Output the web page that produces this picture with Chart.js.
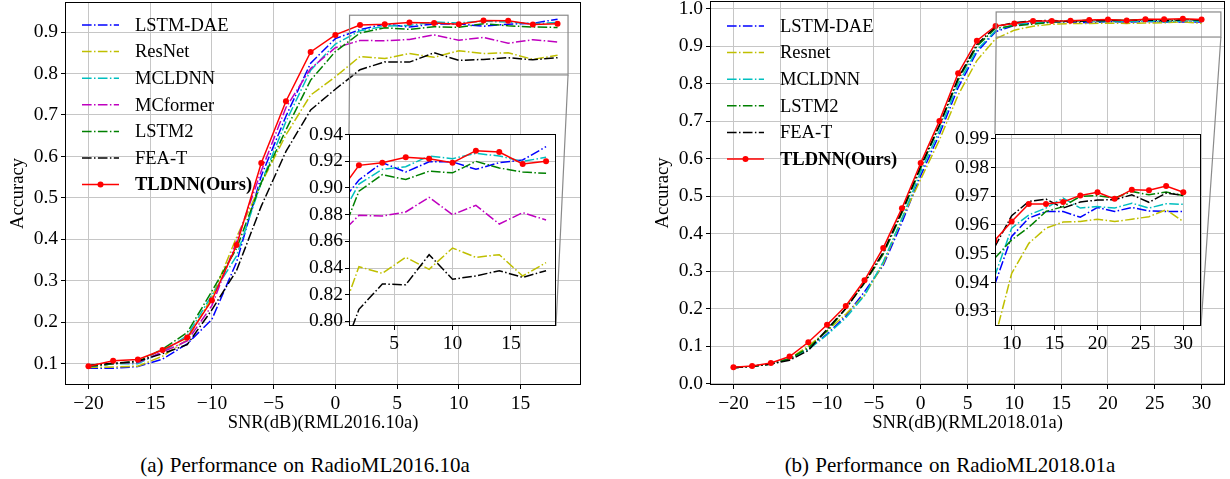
<!DOCTYPE html>
<html>
<head>
<meta charset="utf-8">
<script src="https://cdn.jsdelivr.net/npm/chart.js@4.4.0/dist/chart.umd.min.js"></script>
<style>
  body { margin: 0; background: #fff; width: 1230px; height: 479px; overflow: hidden; position: relative;
         font-family: 'Liberation Serif', 'Times New Roman', serif; }
  canvas { position: absolute; }
  .cap { position: absolute; font-size: 21px; line-height: 21px; white-space: nowrap;
         transform: translateX(-50%); word-spacing: 1px; color: #000; }
</style>
</head>
<body>
<canvas id="mainA" width="610" height="440" style="left:0px;top:0px"></canvas>
<canvas id="mainB" width="585" height="440" style="left:645px;top:0px"></canvas>
<canvas id="insetA" width="290" height="250" style="left:290px;top:110px"></canvas>
<canvas id="insetB" width="280" height="250" style="left:935px;top:110px"></canvas>
<div class="cap" style="left:305px;top:455px">(a) Performance on RadioML2016.10a</div>
<div class="cap" style="left:950px;top:455px">(b) Performance on RadioML2018.01a</div>
<script>
// ---- data: RadioML2016.10a ----
const snrA = [-20, -18, -16, -14, -12, -10, -8, -6, -4, -2, 0, 2, 4, 6, 8, 10, 12, 14, 16, 18];
const lstmDaeA = [0.089, 0.089, 0.093, 0.111, 0.148, 0.207, 0.345, 0.553, 0.697, 0.825, 0.884, 0.906, 0.919, 0.912, 0.9196, 0.9196, 0.914, 0.919, 0.921, 0.931];
const resnetA  = [0.091, 0.092, 0.094, 0.118, 0.158, 0.260, 0.405, 0.535, 0.652, 0.748, 0.792, 0.841, 0.836, 0.848, 0.839, 0.855, 0.848, 0.850, 0.834, 0.844];
const mcldnnA  = [0.092, 0.100, 0.100, 0.128, 0.168, 0.265, 0.360, 0.537, 0.684, 0.808, 0.871, 0.903, 0.914, 0.916, 0.924, 0.922, 0.926, 0.924, 0.920, 0.923];
const mcformerA = [0.093, 0.100, 0.103, 0.128, 0.155, 0.240, 0.395, 0.565, 0.718, 0.812, 0.862, 0.8795, 0.879, 0.882, 0.893, 0.880, 0.887, 0.873, 0.8815, 0.876];
const lstm2A   = [0.093, 0.100, 0.105, 0.135, 0.175, 0.275, 0.378, 0.537, 0.664, 0.784, 0.853, 0.8976, 0.910, 0.9064, 0.9126, 0.9114, 0.920, 0.915, 0.912, 0.911];
const feaTA    = [0.096, 0.101, 0.106, 0.124, 0.146, 0.230, 0.325, 0.480, 0.612, 0.712, 0.762, 0.809, 0.828, 0.8274, 0.850, 0.8316, 0.834, 0.838, 0.833, 0.838];
const tldnnA   = [0.094, 0.107, 0.110, 0.133, 0.163, 0.253, 0.386, 0.584, 0.733, 0.852, 0.893, 0.917, 0.919, 0.923, 0.922, 0.919, 0.928, 0.927, 0.918, 0.920];

// ---- data: RadioML2018.01a ----
const snrB = [-20, -18, -16, -14, -12, -10, -8, -6, -4, -2, 0, 2, 4, 6, 8, 10, 12, 14, 16, 18, 20, 22, 24, 26, 28, 30];
const lstmDaeB = [0.042, 0.046, 0.052, 0.066, 0.092, 0.132, 0.180, 0.245, 0.315, 0.430, 0.555, 0.665, 0.790, 0.885, 0.939, 0.956, 0.9624, 0.9647, 0.9647, 0.9627, 0.9661, 0.9647, 0.9661, 0.9649, 0.9647, 0.9647];
const resnetB  = [0.042, 0.046, 0.052, 0.066, 0.100, 0.140, 0.185, 0.235, 0.320, 0.440, 0.545, 0.650, 0.770, 0.862, 0.920, 0.9431, 0.9536, 0.9589, 0.961, 0.9612, 0.962, 0.9612, 0.962, 0.9629, 0.9653, 0.9612];
const mcldnnB  = [0.042, 0.046, 0.052, 0.066, 0.090, 0.130, 0.175, 0.235, 0.325, 0.440, 0.565, 0.675, 0.800, 0.890, 0.9419, 0.9589, 0.9635, 0.9659, 0.9694, 0.9659, 0.9664, 0.9659, 0.9676, 0.9659, 0.9674, 0.9672];
const lstm2B   = [0.042, 0.046, 0.052, 0.066, 0.095, 0.140, 0.200, 0.268, 0.345, 0.455, 0.575, 0.688, 0.810, 0.900, 0.9483, 0.9548, 0.9592, 0.9647, 0.9664, 0.970, 0.9702, 0.9694, 0.9717, 0.9705, 0.9715, 0.9702];
const feaTB    = [0.042, 0.046, 0.052, 0.062, 0.088, 0.145, 0.200, 0.270, 0.350, 0.460, 0.580, 0.690, 0.815, 0.905, 0.9522, 0.9632, 0.9682, 0.969, 0.9659, 0.968, 0.9687, 0.9688, 0.9705, 0.9679, 0.9711, 0.9703];
const tldnnB   = [0.0435, 0.047, 0.055, 0.072, 0.110, 0.157, 0.207, 0.2755, 0.362, 0.468, 0.5885, 0.701, 0.828, 0.915, 0.9545, 0.9612, 0.9673, 0.9673, 0.968, 0.9703, 0.9714, 0.9691, 0.9723, 0.9721, 0.9736, 0.9714];

// ---- tick labels ----
const xTicksA = [-20, -15, -10, -5, 0, 5, 10, 15];
const yTicksA = [0.1, 0.2, 0.3, 0.4, 0.5, 0.6, 0.7, 0.8, 0.9];
const insetXTicksA = [5, 10, 15];
const insetYTicksA = [0.80, 0.82, 0.84, 0.86, 0.88, 0.90, 0.92, 0.94];
const xTicksB = [-20, -15, -10, -5, 0, 5, 10, 15, 20, 25, 30];
const yTicksB = [0.0, 0.1, 0.2, 0.3, 0.4, 0.5, 0.6, 0.7, 0.8, 0.9, 1.0];
const insetXTicksB = [10, 15, 20, 25, 30];
const insetYTicksB = [0.93, 0.94, 0.95, 0.96, 0.97, 0.98, 0.99];

const FONT = "'Liberation Serif', 'Times New Roman', serif";
const GRID = '#c6c6c6';
const DASHDOT = [9.6, 2.4, 1.5, 2.4];

Chart.defaults.font.family = FONT;
Chart.defaults.font.size = 19.5;
Chart.defaults.color = '#000';

const seriesA = [
  {label: 'LSTM-DAE', color: '#0000ff', values: lstmDaeA},
  {label: 'ResNet', color: '#bfbf00', values: resnetA},
  {label: 'MCLDNN', color: '#00bfbf', values: mcldnnA},
  {label: 'MCformer', color: '#bf00bf', values: mcformerA},
  {label: 'LSTM2', color: '#008000', values: lstm2A},
  {label: 'FEA-T', color: '#000000', values: feaTA},
  {label: 'TLDNN(Ours)', color: '#ff0000', values: tldnnA, ours: true}
];
const seriesB = [
  {label: 'LSTM-DAE', color: '#0000ff', values: lstmDaeB},
  {label: 'Resnet', color: '#bfbf00', values: resnetB},
  {label: 'MCLDNN', color: '#00bfbf', values: mcldnnB},
  {label: 'LSTM2', color: '#008000', values: lstm2B},
  {label: 'FEA-T', color: '#000000', values: feaTB},
  {label: 'TLDNN(Ours)', color: '#ff0000', values: tldnnB, ours: true}
];

function makeDatasets(x, series) {
  return series.map((s, i) => ({
    label: s.label,
    ours: !!s.ours,
    data: x.map((v, j) => ({x: v, y: s.values[j]})),
    borderColor: s.color,
    backgroundColor: s.color,
    borderWidth: 1.5,
    borderDash: s.ours ? [] : DASHDOT,
    pointRadius: s.ours ? 3 : 0,
    pointBorderWidth: 0,
    pointHoverRadius: 0,
    tension: 0,
    order: series.length - i
  }));
}

const fmtX = v => (v < 0 ? '\u2212' + (-v) : String(v));
const fmt = d => v => v.toFixed(d);

function axis(min, max, ticks, cb, size, isY, title, pad) {
  const o = {
    type: 'linear', min: min, max: max,
    afterBuildTicks: a => { a.ticks = ticks.map(v => ({value: v})); },
    afterFit: a => {
      if (isY) a.width = size; else a.height = size;
      // ticks never sit on the plot edges, so no label overflow padding
      a.paddingTop = 0; a.paddingBottom = 0; a.paddingLeft = 0; a.paddingRight = 0;
    },
    grid: {color: GRID, lineWidth: 1, tickColor: '#000', tickLength: 4, drawTicks: true},
    border: {display: false},
    ticks: {callback: cb, padding: pad, autoSkip: false, maxRotation: 0, minRotation: 0, color: '#000'}
  };
  if (title) {
    o.title = {display: true, text: title, color: '#000', font: {size: 18.5},
               padding: isY ? {top: 7, bottom: 0} : {top: 0, bottom: 6}};
  }
  return o;
}

// frame (all four spines) + optional white plot background
const framePlugin = {
  id: 'frame',
  beforeDraw(chart, args, opts) {
    if (!opts.fill) return;
    const a = chart.chartArea, ctx = chart.ctx;
    ctx.save();
    ctx.fillStyle = '#fff';
    ctx.fillRect(a.left, a.top, a.right - a.left, a.bottom - a.top);
    ctx.restore();
  },
  afterDraw(chart) {
    const a = chart.chartArea, ctx = chart.ctx;
    ctx.save();
    ctx.strokeStyle = '#000';
    ctx.lineWidth = 1;
    ctx.strokeRect(Math.round(a.left) + 0.5, Math.round(a.top) + 0.5,
                   Math.round(a.right - a.left) - 1, Math.round(a.bottom - a.top) - 1);
    ctx.restore();
  }
};

// legend drawn inside the plot, from the datasets
const legendPlugin = {
  id: 'inLegend',
  afterDraw(chart, args, opts) {
    const a = chart.chartArea, ctx = chart.ctx;
    ctx.save();
    chart.data.datasets.forEach((ds, i) => {
      const y = a.top + opts.top + i * 26.6;
      const x0 = a.left + 17, x1 = a.left + 54;
      ctx.strokeStyle = ds.borderColor;
      ctx.lineWidth = 1.5;
      ctx.setLineDash(ds.borderDash);
      ctx.beginPath();
      ctx.moveTo(x0, y);
      ctx.lineTo(x1, y);
      ctx.stroke();
      ctx.setLineDash([]);
      if (ds.ours) {
        ctx.fillStyle = ds.borderColor;
        ctx.beginPath();
        ctx.arc((x0 + x1) / 2, y, 3, 0, Math.PI * 2);
        ctx.fill();
      }
      ctx.fillStyle = '#000';
      ctx.font = (ds.ours ? 'bold ' : '') + '18.5px ' + FONT;
      ctx.textBaseline = 'middle';
      ctx.textAlign = 'left';
      ctx.fillText(ds.label, a.left + 70, y + 1);
    });
    ctx.restore();
  }
};

// zoom rectangle on the main plot and connector lines to the inset
function zoomMark(inset, insetCanvas) {
  return {
    id: 'zoomMark',
    afterDatasetsDraw(chart) {
      const xs = chart.scales.x, ys = chart.scales.y, ctx = chart.ctx;
      const ix = inset.scales.x, iy = inset.scales.y;
      const rx0 = xs.getPixelForValue(ix.min), rx1 = xs.getPixelForValue(ix.max);
      const ry0 = ys.getPixelForValue(iy.min), ry1 = ys.getPixelForValue(iy.max);
      const dx = insetCanvas.offsetLeft - chart.canvas.offsetLeft;
      const dy = insetCanvas.offsetTop - chart.canvas.offsetTop;
      const ia = inset.chartArea;
      ctx.save();
      ctx.strokeStyle = '#8a8a8a';
      ctx.lineWidth = 1.2;
      ctx.strokeRect(rx0, ry1, rx1 - rx0, ry0 - ry1);
      ctx.beginPath();
      ctx.moveTo(rx0, ry0);
      ctx.lineTo(ia.left + dx, ia.top + dy);
      ctx.moveTo(rx1, ry0);
      ctx.lineTo(ia.right + dx, ia.bottom + dy);
      ctx.stroke();
      ctx.restore();
    }
  };
}

function buildChart(id, x, series, sc, padding, extraPlugins, pluginOpts) {
  return new Chart(document.getElementById(id), {
    type: 'line',
    data: {datasets: makeDatasets(x, series)},
    options: {
      responsive: false,
      animation: false,
      events: [],
      layout: {autoPadding: false, padding: padding},
      plugins: Object.assign({legend: {display: false}, tooltip: {enabled: false}}, pluginOpts),
      scales: sc
    },
    plugins: [framePlugin].concat(extraPlugins)
  });
}

// insets first, so the main plots can point at them
const insetA = buildChart('insetA', snrA, seriesA, {
  x: axis(1.15, 18.85, insetXTicksA, fmtX, 34, false, null, 2),
  y: axis(0.7965, 0.9405, insetYTicksA, fmt(2), 59, true, null, 2)
}, {left: 0, top: 24, right: 24, bottom: 0}, [], {frame: {fill: true}});

const insetB = buildChart('insetB', snrB, seriesB, {
  x: axis(8.06, 32.06, insetXTicksB, fmtX, 34, false, null, 2),
  y: axis(0.9248, 0.9917, insetYTicksB, fmt(2), 60, true, null, 2)
}, {left: 0, top: 24, right: 14, bottom: 0}, [], {frame: {fill: true}});

buildChart('mainA', snrA, seriesA, {
  x: axis(-21.9, 19.9, xTicksA, fmtX, 55, false, 'SNR(dB)(RML2016.10a)', 3),
  y: axis(0.0486, 0.9724, yTicksA, fmt(1), 65, true, 'Accuracy', 3)
}, {left: 0, top: 2, right: 29, bottom: 0},
  [legendPlugin, zoomMark(insetA, document.getElementById('insetA'))],
  {inLegend: {top: 23}});

buildChart('mainB', snrB, seriesB, {
  x: axis(-22.5, 32.5, xTicksB, fmtX, 55, false, 'SNR(dB)(RML2018.01a)', 3),
  y: axis(-0.004, 1.021, yTicksB, fmt(1), 65, true, 'Accuracy', 3)
}, {left: 0, top: 1, right: 5, bottom: 0},
  [legendPlugin, zoomMark(insetB, document.getElementById('insetB'))],
  {inLegend: {top: 25}});
</script>
</body>
</html>
